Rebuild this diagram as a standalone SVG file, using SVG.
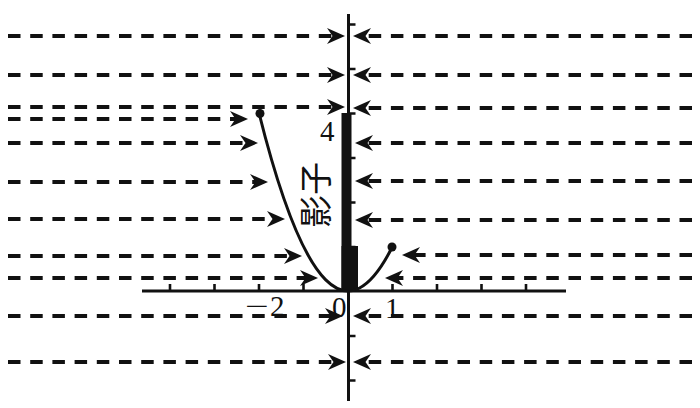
<svg xmlns="http://www.w3.org/2000/svg" width="700" height="408" viewBox="0 0 700 408">
<style>
.ray{fill:none;stroke:#111;stroke-width:3.8;stroke-dasharray:12.5 9.7;marker-end:url(#ah)}
.ax{fill:none;stroke:#111;stroke-width:3}
.tk{fill:none;stroke:#111;stroke-width:2.6}
.lbl{font-family:"Liberation Serif","Times New Roman",serif;font-size:29px;fill:#111}
.cjk{font-family:"Liberation Serif","Noto Sans CJK SC",serif;font-size:33px;fill:#111}
</style>
<defs>
<marker id="ah" markerUnits="userSpaceOnUse" markerWidth="20" markerHeight="18" viewBox="-18 -9 20 18" refX="-12" refY="0" orient="auto" overflow="visible">
<path d="M0,0 L-18,-8 L-12.5,0 L-18,8 Z" fill="#111"/>
</marker>
</defs>
<rect width="700" height="408" fill="#fff"/>
<g id="connectors">
<path class="ray" d="M8,36 H333"/>
<path class="ray" d="M8,75 H333"/>
<path class="ray" d="M8,107 H333"/>
<path class="ray" d="M8,119 H236"/>
<path class="ray" d="M8,143 H246"/>
<path class="ray" d="M8,182 H256"/>
<path class="ray" d="M8,219 H273"/>
<path class="ray" d="M8,256 H290"/>
<path class="ray" d="M8,278 H306"/>
<path class="ray" d="M8,316 H331"/>
<path class="ray" d="M8,362 H334"/>
<path class="ray" d="M692,36 H365"/>
<path class="ray" d="M692,75 H365"/>
<path class="ray" d="M692,108 H365"/>
<path class="ray" d="M692,143 H367"/>
<path class="ray" d="M692,181 H367"/>
<path class="ray" d="M692,220 H367"/>
<path class="ray" d="M692,255 H414"/>
<path class="ray" d="M692,278 H397"/>
<path class="ray" d="M692,316 H365"/>
<path class="ray" d="M692,362 H365"/>
</g>
<g id="axes">
<path class="ax" d="M142,291 H566"/>
<path class="ax" d="M348.5,14 V401"/>
<path class="tk" d="M170,291 v-7 M214.5,291 v-7 M259,291 v-7 M303.5,291 v-7 M392.5,291 v-7 M437,291 v-7 M481.5,291 v-7 M526,291 v-7"/>
<path class="tk" d="M348.5,24.5 h7 M348.5,69 h7 M348.5,113.5 h7 M348.5,158 h7 M348.5,202.5 h7 M348.5,247 h7 M348.5,336 h7 M348.5,380.5 h7"/>
</g>
<g id="shadow">
<rect x="341.5" y="113" width="10" height="178" fill="#111"/>
<rect x="341.5" y="246" width="16.5" height="45" fill="#111"/>
</g>
<g id="curve">
<path d="M259,113 Q325.75,380 392.5,246.5" fill="none" stroke="#111" stroke-width="3"/>
<circle cx="260" cy="113.5" r="4.5" fill="#111"/>
<circle cx="392" cy="247" r="4.5" fill="#111"/>
</g>
<g id="labels">
<text class="lbl" transform="translate(245,316) scale(1.45,1)">−</text>
<text class="lbl" x="270" y="316">2</text>
<text class="lbl" x="332" y="317">0</text>
<text class="lbl" x="385" y="318">1</text>
<text class="lbl" x="320" y="141">4</text>
<text class="cjk" transform="translate(317,195) rotate(-90)" text-anchor="middle" dominant-baseline="central">影子</text>
</g>
</svg>
